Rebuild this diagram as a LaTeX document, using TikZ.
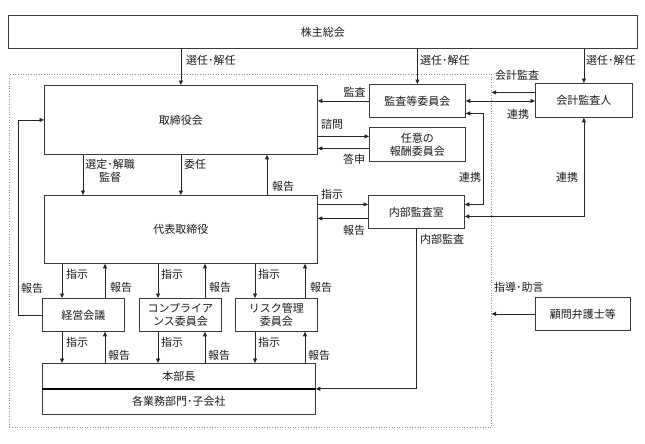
\documentclass[tikz,border=0pt]{standalone}
\usepackage{fontspec}
\newfontfamily\jp{Noto Sans CJK JP}
\usetikzlibrary{arrows.meta}
\definecolor{boxcol}{HTML}{3A3A3A}
\definecolor{txtcol}{HTML}{1A1A1A}
\definecolor{bcol}{HTML}{8490B4}
\begin{document}
\begin{tikzpicture}[x=1pt,y=-1pt,
  every node/.style={font=\jp\fontsize{11}{13}\selectfont, text=txtcol},
  box/.style={draw=boxcol, line width=0.8pt, inner sep=0pt, align=center, anchor=north west},
  lbl/.style={inner sep=0pt, align=center},
  arr/.style={draw=black!85, line width=0.7pt, -{Triangle[length=4.5pt,width=4pt]}},
  arrb/.style={draw=black!85, line width=0.7pt, {Triangle[length=4.5pt,width=4pt]}-{Triangle[length=4.5pt,width=4pt]}}]
\useasboundingbox[fill=white] (0,0) rectangle (645,444);

% boxes
\node[box, minimum width=629pt, minimum height=33pt] (kabu) at (8,15) {株主総会};
\node[draw=bcol, dotted, line width=0.6pt, inner sep=0pt, anchor=north west, minimum width=482pt, minimum height=353pt] (grp) at (9,74) {};
\node[box, minimum width=273pt, minimum height=69pt] (tori) at (44,85) {取締役会};
\node[box, minimum width=96pt, minimum height=33pt] (kansa) at (369,84) {監査等委員会};
\node[box, minimum width=97pt, minimum height=34pt] (kaikei) at (535,83) {会計監査人};
\node[box, minimum width=96pt, minimum height=34pt] (hoshu) at (369,127) {任意の\\報酬委員会};
\node[box, minimum width=273pt, minimum height=68pt] (daihyo) at (44,195) {代表取締役};
\node[box, minimum width=96pt, minimum height=33pt] (naibu) at (368,195) {内部監査室};
\node[box, minimum width=82pt, minimum height=33pt] (keiei) at (42,298) {経営会議};
\node[box, minimum width=82pt, minimum height=33pt] (comp) at (139,298) {コンプライア\\ンス委員会};
\node[box, minimum width=82pt, minimum height=33pt] (risk) at (235,298) {リスク管理\\委員会};
\node[box, minimum width=273pt, minimum height=25pt] (honbu) at (42,363) {本部長};
\node[box, minimum width=273pt, minimum height=26pt] (kaku) at (42,388) {各業務部門･子会社};
\node[box, minimum width=95pt, minimum height=33pt] (komon) at (535,297) {顧問弁護士等};
\draw[line width=1.6pt, black] (honbu.south west) -- (honbu.south east);

% shareholders
\draw[arr] (kabu.south -| tori.north) -- (tori.north);
\draw[arr] (kabu.south -| kansa.north) -- (kansa.north);
\draw[arr] (kabu.south -| kaikei.north) -- (kaikei.north);
\node[lbl, anchor=west] (l1) at (186,60) {選任･解任};
\node[lbl, anchor=west] (l2) at (420,60) {選任･解任};
\node[lbl, anchor=west] (l3) at (586,60) {選任･解任};

% audit committee etc.
\draw[arr] (kansa.west) -- (kansa.west -| tori.east);
\node[lbl] (l4) at (354.5,92.5) {監査};
\draw[arr] ([yshift=8pt]hoshu.west -| tori.east) -- ([yshift=8pt]hoshu.west);
\node[lbl] (l5) at (332,124) {諮問};
\draw[arr] ([yshift=-4pt]hoshu.west) -- ([yshift=-4pt]hoshu.west -| tori.east);
\node[lbl] (l6) at (354,159) {答申};
\draw[arrb] (kansa.east) -- (kansa.east -| kaikei.west);
\node[lbl] (l7) at (518,114) {連携};
\draw[arr] ([yshift=8pt]kaikei.west) -- ([yshift=8pt]kaikei.west -| grp.east);
\node[lbl, anchor=west] (l8) at (495,75) {会計監査};
\draw[arrb] ([yshift=-12.5pt]kansa.east) -- ++(18,0) |- ([yshift=7.5pt]naibu.east);
\node[lbl] (l9) at (470,177) {連携};
\draw[arrb] (kaikei.south) |- ([yshift=-4.5pt]naibu.east);
\node[lbl] (l10) at (567,177) {連携};

% board to representative director
\coordinate (a1) at ([xshift=39pt]tori.south west);
\coordinate (a3) at ([xshift=223pt]tori.south west);
\draw[arr] (a1) -- (a1 |- daihyo.north);
\draw[arr] (tori.south) -- (daihyo.north);
\draw[arr] (a3 |- daihyo.north) -- (a3);
\node[lbl] (l11) at (110,170.5) {選定･解職\\監督};
\node[lbl, anchor=west] (l12) at (184,164) {委任};
\node[lbl, anchor=west] (l13) at (272,186) {報告};

% internal audit office
\draw[arr] ([yshift=7.5pt]naibu.west -| daihyo.east) -- ([yshift=7.5pt]naibu.west);
\node[lbl] (l14) at (332,194) {指示};
\draw[arr] ([yshift=-6.5pt]naibu.west) -- ([yshift=-6.5pt]naibu.west -| daihyo.east);
\node[lbl] (l15) at (354,230) {報告};
\draw[arr] (naibu.south) |- (honbu.south east);
\node[lbl, anchor=west] (l16) at (420,239) {内部監査};

% committees
\coordinate (k1) at ([xshift=20pt]keiei.north west);
\coordinate (k2) at ([xshift=63pt]keiei.north west);
\coordinate (c1) at ([xshift=19pt]comp.north west);
\coordinate (c2) at ([xshift=66pt]comp.north west);
\coordinate (r1) at ([xshift=20pt]risk.north west);
\coordinate (r2) at ([xshift=70pt]risk.north west);
\foreach \p/\q in {k1/k2, c1/c2, r1/r2} {
  \draw[arr] (\p |- daihyo.south) -- (\p);
  \draw[arr] (\q) -- (\q |- daihyo.south);
  \draw[arr] (\p |- keiei.south) -- (\p |- honbu.north);
  \draw[arr] (\q |- honbu.north) -- (\q |- keiei.south);
}
\node[lbl, anchor=west] (m1) at (66,274) {指示};
\node[lbl, anchor=west] (m2) at (161,274) {指示};
\node[lbl, anchor=west] (m3) at (258,274) {指示};
\node[lbl, anchor=west] (m4) at (110,287) {報告};
\node[lbl, anchor=west] (m5) at (209,287) {報告};
\node[lbl, anchor=west] (m6) at (310,287) {報告};
\node[lbl, anchor=west] (n1) at (66,342) {指示};
\node[lbl, anchor=west] (n2) at (161,342) {指示};
\node[lbl, anchor=west] (n3) at (258,342) {指示};
\node[lbl, anchor=west] (n4) at (108,355) {報告};
\node[lbl, anchor=west] (n5) at (208,355) {報告};
\node[lbl, anchor=west] (n6) at (308,355) {報告};

% management meeting report to board
\draw[arr] (keiei.west) -- ++(-24,0) |- (tori.west);
\node[lbl] (l17) at (32,288) {報告};

% legal advisers
\draw[arr] (komon.west) -- (komon.west -| grp.east);
\node[lbl, anchor=west] (l18) at (494,287) {指導･助言};
\end{tikzpicture}
\end{document}
